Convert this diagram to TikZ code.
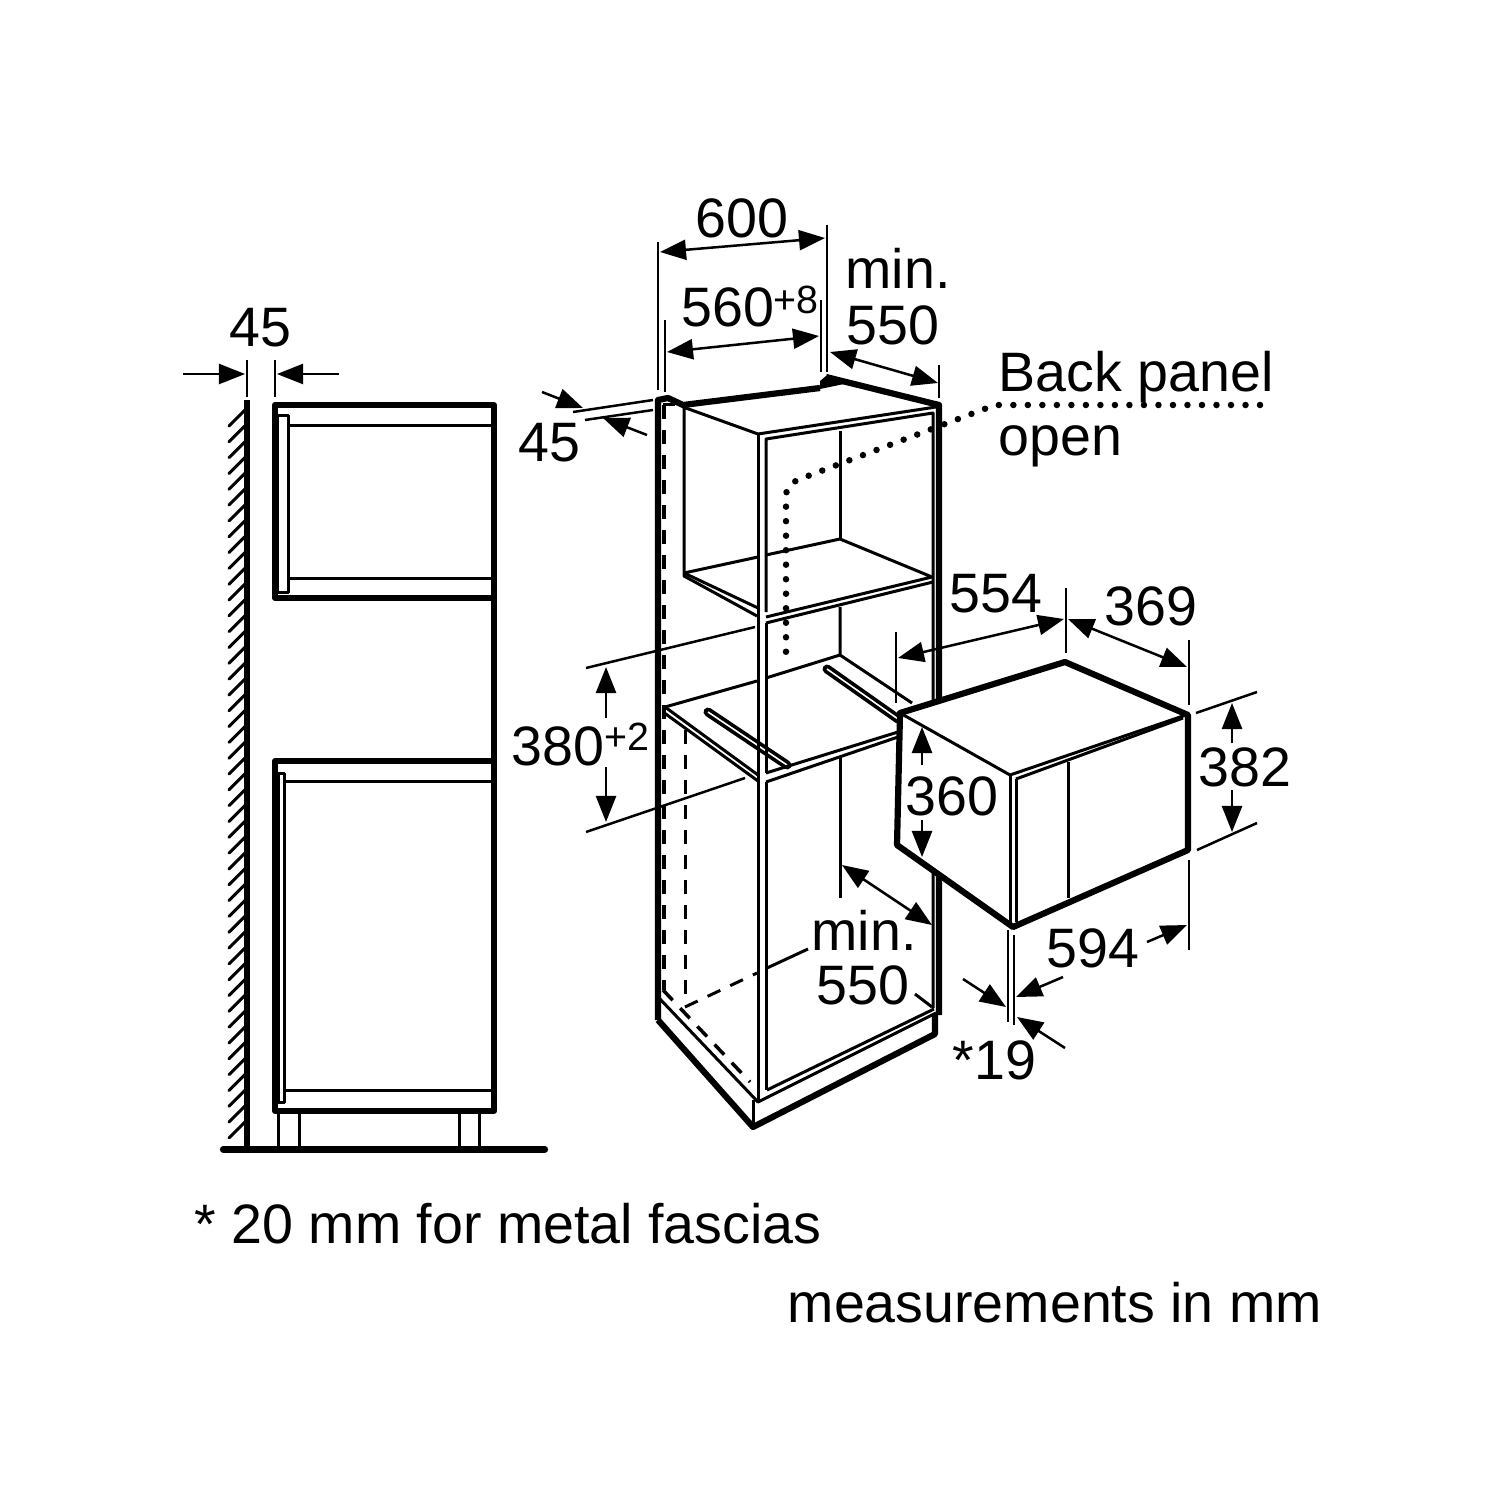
\documentclass[tikz,border=0pt]{standalone}
\usepackage{fontspec}
\setmainfont{Liberation Sans}
\usetikzlibrary{arrows.meta}

\begin{document}
\begin{tikzpicture}[x=.01cm, y=-.01cm, line join=round,
	>={Triangle[length=.26cm, width=.2cm]},
	thickline/.style={line width=.062cm},
	thinline/.style={line width=.03cm},
	dimline/.style={line width=.025cm},
	hiddenline/.style={line width=.03cm, dash pattern=on .14cm off .11cm},
	label/.style={anchor=base west, inner sep=0pt, font=\fontsize{15.8pt}{18pt}\selectfont},
	suplabel/.style={anchor=base west, inner sep=0pt, font=\fontsize{11.2pt}{13pt}\selectfont}]
	\useasboundingbox (0,0) rectangle (1500,1500);
	\fill[white] (0,0) rectangle (1500,1500);

	% side view: wall and floor
	\foreach \k in {0,...,45}
		\draw[line width=.03cm, line cap=round] (245,410+15.82*\k) -- (229,426+15.82*\k);
	\draw[thickline] (247,400) -- (247,1149);
	\draw[thickline, line cap=round] (223,1149.5) -- (545,1149.5);

	% side view: upper and lower unit
	\draw[thickline] (494,598) -- (275,598) -- (275,405) -- (494,405) -- (494,1111) -- (275,1111) -- (275,761) -- (494,761);
	\draw[thinline] (277,415) rectangle (288,592);
	\draw[thinline] (288,425.5) -- (492,425.5);
	\draw[thinline] (288,578) -- (492,578);
	\draw[thinline] (278,773) rectangle (284,1102);
	\draw[thinline] (284,781) -- (492,781);
	\draw[thinline] (284,1090) -- (492,1090);
	\foreach \x in {278,299,459,479}
		\draw[thinline] (\x,1111) -- (\x,1149);

	% tall unit: oven rails
	\draw[line width=.09cm, line cap=round] (708,712) -- (787,765);
	\draw[white, line width=.016cm] (708,712) -- (787,765);
	\draw[line width=.09cm, line cap=round] (827,669) -- (898,719);
	\draw[white, line width=.016cm] (827,669) -- (898,719);

	% tall unit: outline
	\draw[thickline] (658,1020) -- (658,400) -- (668,398) -- (683,405) -- (820,388);
	\fill (820,381) -- (826,376) -- (844,384) -- (820,389) -- cycle;
	\draw[thickline] (826,377) -- (939,405) -- (939,1015);
	\draw[thickline] (658,1020) -- (753,1127) -- (935,1034) -- (935,1015);
	\draw[thinline] (753,1100) -- (753,1127);
	\draw[thinline] (659,998) -- (758,1102) -- (936,1013);
	\draw[thinline] (767,1090) -- (934,1009);
	\draw[thinline] (663,404) -- (675,404);

	% tall unit: front frame
	\draw[thinline] (683,407) -- (758,434) -- (936,407);
	\draw[thinline] (758,434) -- (758,1100);
	\draw[thinline] (766,612) -- (766,439) -- (933,413) -- (933,1008);
	\draw[thinline] (766,623) -- (766,773);
	\draw[thinline] (766,782) -- (766,1090);

	% tall unit: upper compartment
	\draw[thinline] (684,405) -- (684,576) -- (757,616);
	\draw[thinline] (684,573) -- (758,608);
	\draw[thinline] (684,573) -- (758,557);
	\draw[thinline] (766,555) -- (840,539) -- (932,577) -- (766,617);
	\draw[thinline] (766,623) -- (933,582);
	\draw[thinline] (840,431) -- (840,539);

	% tall unit: oven compartment
	\draw[thinline] (840,607) -- (840,655) -- (912,703);
	\draw[thinline] (665,707) -- (757,681);
	\draw[thinline] (766,678) -- (840,655);
	\draw[thinline] (665,707) -- (758,775);
	\draw[thinline] (663,712) -- (758,781);
	\draw[thinline] (766,773) -- (898,732);
	\draw[thinline] (766,782) -- (898,737);
	\draw[thinline] (840,756) -- (840,898);

	% tall unit: hidden edges
	\draw[hiddenline, line width=.035cm] (664,405) -- (664,990);
	\draw[hiddenline, line width=.035cm] (663,990) -- (750,1082);
	\draw[hiddenline] (685,730) -- (685,1005);
	\draw[hiddenline] (685,1007) -- (757,973);
	\draw[thinline] (767,968) -- (808,949);
	\draw[thinline] (915,994) -- (932,1007);

	% dotted line to back panel
	\draw[line width=.065cm, line cap=round, dash pattern=on 0pt off .145cm] (1260,405) -- (995,405) -- (800,479) .. controls (790,483) and (786,488) .. (786,497) -- (786,662);

	% microwave
	\draw[thickline, fill=white] (900,713) -- (1065,662) -- (1188,715) -- (1188,850) -- (1013,927) -- (897,845) -- cycle;
	\draw[thinline] (900,713) -- (1010,775) -- (1186,715);
	\draw[thinline] (1016,779) -- (1183,718);
	\draw[thinline] (1010,775) -- (1010,924);
	\draw[thinline] (1016,779) -- (1016,922);
	\draw[thinline] (1068,762) -- (1068,898);

	% dimension lines, side view
	\draw[dimline] (247,360) -- (247,397);
	\draw[dimline] (275,360) -- (275,397);
	\draw[dimline, ->] (183,374) -- (245,374);
	\draw[dimline, ->] (339,374) -- (277,374);

	% dimension lines, tall unit
	\draw[dimline] (658,242) -- (658,390);
	\draw[dimline] (665,320) -- (665,392);
	\draw[dimline] (827,225) -- (827,372);
	\draw[dimline] (821,300) -- (821,372);
	\draw[dimline] (939,365) -- (939,398);
	\draw[dimline, <->] (660,252) -- (825,238);
	\draw[dimline, <->] (667,352) -- (819,336);
	\draw[dimline, <->] (830,352) -- (938,383);
	\draw[dimline] (573,412) -- (653,400);
	\draw[dimline] (585,420) -- (653,410);
	\draw[dimline, ->] (542,392) -- (583,408);
	\draw[dimline, ->] (647,435) -- (603,418);
	\draw[dimline] (586,668) -- (755,627);
	\draw[dimline] (586,832) -- (745,778);
	\draw[dimline, ->] (606,718) -- (606,667);
	\draw[dimline, ->] (606,767) -- (606,822);
	\draw[dimline, <->] (842,865) -- (932,925);

	% dimension lines, microwave
	\draw[dimline] (896,632) -- (896,703);
	\draw[dimline] (1066,588) -- (1066,653);
	\draw[dimline] (1189,640) -- (1189,705);
	\draw[dimline] (1189,860) -- (1189,950);
	\draw[dimline] (1196,713) -- (1257,692);
	\draw[dimline] (1197,850) -- (1257,823);
	\draw[dimline, <->] (898,658) -- (1064,619);
	\draw[dimline, <->] (1068,619) -- (1187,667);
	\draw[dimline, ->] (1232,743) -- (1232,703);
	\draw[dimline, ->] (1232,790) -- (1232,832);
	\draw[dimline, ->] (922,765) -- (922,727);
	\draw[dimline, ->] (922,820) -- (922,857);
	\draw[dimline, ->] (1147,942) -- (1187,925);
	\draw[dimline] (1008,930) -- (1008,1022);
	\draw[dimline] (1014,935) -- (1014,1025);
	\draw[dimline, ->] (963,979) -- (1006,1007);
	\draw[dimline, ->] (1063,977) -- (1016,997);
	\draw[dimline, ->] (1065,1048) -- (1017,1017);

	% labels
	\node[label] (wallgap) at (229,347) {45};
	\node[label] (width) at (695,238) {600};
	\node[label] (cutwidth) at (681,327) {560};
	\node[suplabel] (cuttol) at (773,314) {+8};
	\node[label] (mintop) at (845,288) {min.};
	\node[label] (depthtop) at (846,344) {550};
	\node[label] (panel) at (998,391) {Back panel};
	\node[label] (open) at (998,455) {open};
	\node[label] (topgap) at (518,461) {45};
	\node[label] (cutheight) at (511,765) {380};
	\node[suplabel] (heighttol) at (604,750) {+2};
	\node[label] (mwdepth) at (949,612) {554};
	\node[label] (mwbody) at (1104,625) {369};
	\node[label] (mwheight) at (1198,786) {382};
	\node[label] (mwinner) at (905,815) {360};
	\node[label] (mwwidth) at (1046,967) {594};
	\node[label] (minlow) at (811,950) {min.};
	\node[label] (depthlow) at (816,1004) {550};
	\node[label] (fascia) at (952,1079) {*19};
	\node[label] (note) at (194,1243) {* 20 mm for metal fascias};
	\node[label] (units) at (787,1322) {measurements in mm};
\end{tikzpicture}
\end{document}
